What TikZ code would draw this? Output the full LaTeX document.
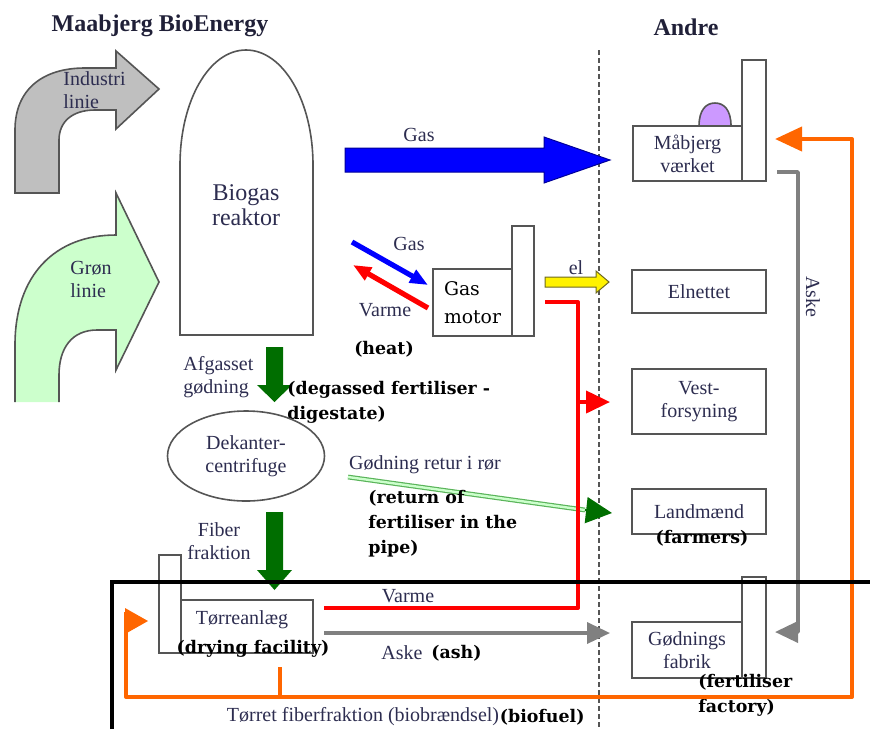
\documentclass[tikz,border=0pt]{standalone}
\usepackage{fontspec}
\setmainfont{Liberation Serif}
\newfontfamily\notefont{DejaVu Serif}
\usetikzlibrary{arrows.meta,shapes.geometric,positioning}
\definecolor{txtc}{RGB}{45,45,80}
\definecolor{boxc}{RGB}{85,85,85}
\definecolor{lgreen}{RGB}{204,255,204}
\definecolor{dgreen}{RGB}{0,110,0}
\definecolor{retc}{RGB}{90,180,90}
\definecolor{fuel}{RGB}{255,102,0}
\definecolor{ashc}{RGB}{128,128,128}
\definecolor{dome}{RGB}{204,153,255}
\tikzset{
  lbl/.style={text=txtc, font=\fontsize{10}{11.5}\selectfont, align=center, inner sep=0pt},
  note/.style={font=\notefont\bfseries\fontsize{8.7}{12.5}\selectfont, align=left, inner sep=0pt},
  unit/.style={draw=boxc, line width=0.8pt, fill=white, inner sep=0pt, text=txtc,
    font=\fontsize{10}{11.5}\selectfont, align=center},
  heatline/.style={draw=red, line width=2pt, line join=round},
  ashline/.style={draw=ashc, line width=1.8pt, line join=round},
  fuelline/.style={draw=fuel, line width=2pt, line join=round},
}

\begin{document}
\begin{tikzpicture}[x=0.5pt, y=-0.5pt]
\useasboundingbox (0,0) rectangle (870,729);

% headings
\node[font=\bfseries\fontsize{12}{14}\selectfont, text=txtc!70!black] (mbe) at (160,26) {Maabjerg BioEnergy};
\node[font=\bfseries\fontsize{12}{14}\selectfont, text=txtc!70!black] (andre) at (686,27) {Andre};
\draw[boxc, line width=0.8pt, dash pattern=on 2.5pt off 1.5pt] (599,50) -- (599,729);

% inlet lines
\draw[draw=boxc, fill=gray!50, line width=0.8pt] (15,193) -- (15,130) .. controls (15,90) and (42,68) .. (85,68)
  -- (116,68) -- (116,51) -- (159,89) -- (116,129) -- (116,110) -- (95,110)
  .. controls (72,110) and (59,122) .. (59,140) -- (59,193) -- cycle;
\node[lbl, align=left, anchor=west] (ind) at (63,90) {Industri\\linie};
\draw[draw=boxc, fill=lgreen, line width=0.8pt] (15,402) -- (15,345) .. controls (15,275) and (55,235) .. (116,235)
  -- (116,193) -- (159,282) -- (116,370) -- (116,330) -- (97,330)
  .. controls (72,330) and (59,348) .. (59,375) -- (59,402);
\node[lbl, align=left, anchor=west] (gron) at (70,279) {Grøn\\linie};

% reactor
\draw[boxc, line width=0.8pt, fill=white] (180,335) -- (180,165) .. controls (180,101) and (209,50) .. (246,50)
  .. controls (283,50) and (313,101) .. (313,165) -- (313,335) -- cycle;
\node[lbl, font=\fontsize{12}{12.5}\selectfont] (reak) at (246,205) {Biogas\\reaktor};

% gas to the plant
\draw[fill=blue, draw=blue!60!black, line width=0.5pt] (345,148) -- (544,148) -- (544,137) -- (610,160)
  -- (544,183) -- (544,172) -- (345,172) -- cycle;
\node[lbl] (gas1) at (419,135) {Gas};

% others
\draw[draw=boxc, line width=0.8pt, fill=dome] (699,126) .. controls (699,110) and (706,103) .. (715,103)
  .. controls (724,103) and (731,110) .. (731,126) -- cycle;
\node[unit, minimum width=54.5pt, minimum height=27.5pt] (maab) at (687.5,153.5) {Måbjerg\\værket};
\node[unit, minimum width=12pt, minimum height=60.5pt] (maabch) at (754,120.5) {};
\node[unit, minimum width=67pt, minimum height=21.5pt] (eln) at (699,291.5) {Elnettet};
\node[unit, minimum width=67pt, minimum height=32.5pt] (vest) at (699,401.5) {Vest-\\forsyning};
\node[unit, minimum width=67pt, minimum height=22.5pt] (land) at (699,511.5) {Landmænd};
\node[note] (farm) at (702,538) {(farmers)};
\node[unit, minimum width=12pt, minimum height=50.5pt] (godnch) at (754,627.5) {};
\node[unit, minimum width=55pt, minimum height=28pt] (godn) at (687,650) {Gødnings\\fabrik};
\node[note, anchor=west] (fact) at (698,695) {(fertiliser\\factory)};

% gas motor
\node[unit, minimum width=11pt, minimum height=55pt] (gasmch) at (523,281) {};
\node[unit, minimum width=39.5pt, minimum height=33.5pt, font=\notefont\fontsize{9.4}{14}\selectfont,
  text=black, align=left] (gasm) at (472.5,302.5) {Gas\\motor};
\coordinate (gin) at (352,242);
\coordinate (gout) at (428,285);
\coordinate (hin) at (428,308);
\coordinate (hout) at (353,265);
\draw[blue, line width=2.6pt, -{Triangle[length=9pt,width=7pt]}] (gin) -- (gout);
\draw[red, line width=2.6pt, -{Triangle[length=9pt,width=7pt]}] (hin) -- (hout);
\node[lbl] (gas2) at (409,244) {Gas};
\node[lbl] (varme1) at (385,310) {Varme};
\node[note] (heat) at (384,349) {(heat)};
\draw[fill=yellow, draw=olive!70!black, line width=0.5pt] (545,277) -- (596,277) -- (596,271) -- (609,282)
  -- (596,293) -- (596,287) -- (545,287) -- cycle;
\node[lbl] (el) at (576,268) {el};

% decanter
\fill[dgreen] (266,347) -- (283,347) -- (283,385) -- (292,385) -- (274.5,402) -- (257,385) -- (266,385) -- cycle;
\node[lbl, align=left, anchor=west] (afg) at (183,377.5) {Afgasset\\gødning};
\node[note, anchor=west] (deg) at (287,402) {(degassed fertiliser -\\digestate)};
\node[draw=boxc, line width=0.8pt, ellipse, minimum width=78.5pt, minimum height=45pt, inner sep=0pt,
  text=txtc, font=\fontsize{10}{11.5}\selectfont, align=center] (dek) at (246,456) {Dekanter-\\centrifuge};
\fill[dgreen] (266,512) -- (283,512) -- (283,570) -- (292,570) -- (274.5,590) -- (257,570) -- (266,570) -- cycle;
\node[lbl] (fib) at (219,541.5) {Fiber\\fraktion};

% fertiliser return
\coordinate (r1) at (348,477);
\coordinate (r2) at (585,510);
\coordinate (r3) at (612,513);
\draw[draw=retc, double=lgreen, double distance=1.2pt, line width=0.6pt] (r1) -- (r2);
\draw[dgreen, line width=1pt, -{Triangle[length=13pt,width=13pt]}] (r2) -- (r3);
\node[lbl] (ret) at (425,465) {Gødning retur i rør};
\node[note, anchor=west] (retn) at (368,524) {(return of\\fertiliser in the\\pipe)};

% heat
\coordinate (h1) at (545,302);
\coordinate (h2) at (578,608);
\coordinate (h3) at (324,608);
\coordinate (h4) at (578,402);
\coordinate (h5) at (610,402);
\draw[heatline] (h1) -| (h2) -- (h3);
\draw[heatline, -{Triangle[length=12pt,width=11pt]}] (h4) -- (h5);

% drying
\node[unit, minimum width=11pt, minimum height=49pt] (torrech) at (170,604) {};
\node[unit, minimum width=66pt, minimum height=26.5pt] (torre) at (247,626.5) {};
\node[lbl] (torrel) at (242,620) {Tørreanlæg};
\node[note] (dry) at (253,649) {(drying facility)};
\node[lbl] (varme2) at (408,596) {Varme};

% ash
\coordinate (a1) at (324,633);
\coordinate (a2) at (610,633);
\coordinate (a3) at (777,172);
\coordinate (a4) at (798,632);
\coordinate (a5) at (775,632);
\draw[ashline, -{Triangle[length=11.5pt,width=10.5pt]}] (a1) -- (a2);
\draw[ashline, -{Triangle[length=11.5pt,width=10.5pt]}] (a3) -| (a4) -- (a5);
\node[lbl] (askel) at (402,653) {Aske};
\node[note, right=4pt of askel] (ash) {(ash)};
\node[lbl, rotate=-90] (askev) at (813,297) {Aske};

% dried fibre
\coordinate (f1) at (280,667);
\coordinate (f2) at (280,697);
\coordinate (f4) at (126,612);
\coordinate (f5) at (852,697);
\coordinate (f6) at (852,139);
\coordinate (f7) at (775,139);
\draw[fuelline] (f1) -- (f2);
\draw[fuelline, -{Triangle[length=13.5pt,width=12pt]}] (f4) |- (f5) -- (f6) -- (f7);
\fill[fuel] (125,608) -- (148,621) -- (125,634) -- cycle;
\node[lbl] (tff) at (363,717) {Tørret fiberfraktion (biobrændsel)};
\node[note, right=0pt of tff] (biof) {(biofuel)};

\draw[line width=2pt] (112,729) -- (112,582) -- (870,582);
\end{tikzpicture}
\end{document}
